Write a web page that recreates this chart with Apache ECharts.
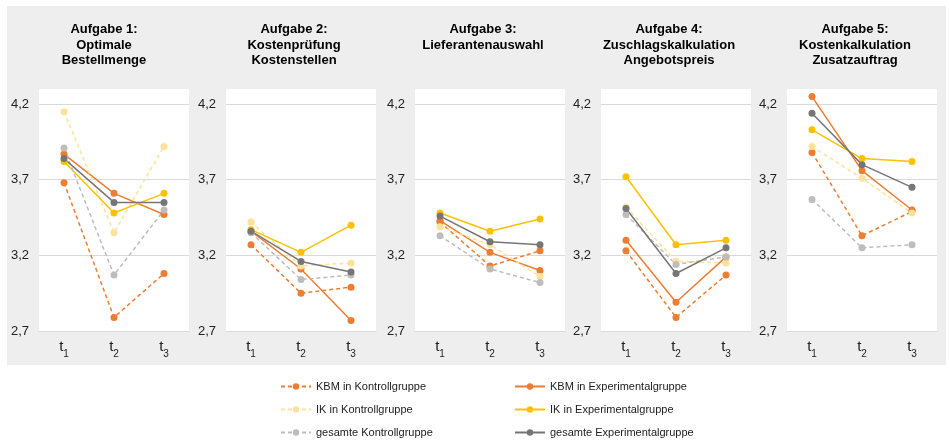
<!DOCTYPE html>
<html>
<head>
<meta charset="utf-8">
<script src="https://cdn.jsdelivr.net/npm/echarts@6/dist/echarts.min.js"></script>
<style>
  html, body { margin: 0; padding: 0; background: #fff; }
  #chart { width: 949px; height: 443px; }
</style>
</head>
<body>
<div id="chart"></div>
<script>
// Messzeitpunkte (t1, t2, t3) -> Index wird als Subskript gezeigt
const categories = ['1', '2', '3']
const taskTitles = [
  'Aufgabe 1:\nOptimale\nBestellmenge',
  'Aufgabe 2:\nKostenprüfung\nKostenstellen',
  'Aufgabe 3:\nLieferantenauswahl',
  'Aufgabe 4:\nZuschlagskalkulation\nAngebotspreis',
  'Aufgabe 5:\nKostenkalkulation\nZusatzauftrag'
]
const yMin = 2.7
const yMax = 4.3
const yInterval = 0.5

// Werte je Aufgabe: [t1, t2, t3]
const kbmKontroll = [[3.68, 2.79, 3.08], [3.27, 2.95, 2.99], [3.42, 3.13, 3.23], [3.23, 2.79, 3.07], [3.88, 3.33, 3.49]]
const kbmExperimental = [[3.87, 3.61, 3.47], [3.36, 3.11, 2.77], [3.43, 3.22, 3.10], [3.30, 2.89, 3.19], [4.25, 3.76, 3.50]]
const ikKontroll = [[4.15, 3.35, 3.92], [3.42, 3.13, 3.15], [3.39, 3.27, 3.06], [3.52, 3.16, 3.15], [3.92, 3.71, 3.48]]
const ikExperimental = [[3.82, 3.48, 3.61], [3.37, 3.22, 3.40], [3.48, 3.36, 3.44], [3.72, 3.27, 3.30], [4.03, 3.84, 3.82]]
const gesamtKontroll = [[3.91, 3.07, 3.50], [3.35, 3.04, 3.07], [3.33, 3.11, 3.02], [3.47, 3.14, 3.19], [3.57, 3.25, 3.27]]
const gesamtExperimental = [[3.84, 3.55, 3.55], [3.36, 3.16, 3.09], [3.46, 3.29, 3.27], [3.51, 3.08, 3.25], [4.14, 3.80, 3.65]]

const groups = [
  { name: 'KBM in Kontrollgruppe', data: kbmKontroll, color: '#ED7D31', dashed: true },
  { name: 'KBM in Experimentalgruppe', data: kbmExperimental, color: '#ED7D31', dashed: false },
  { name: 'IK in Kontrollgruppe', data: ikKontroll, color: '#FFE29A', dashed: true },
  { name: 'IK in Experimentalgruppe', data: ikExperimental, color: '#FFC000', dashed: false },
  { name: 'gesamte Kontrollgruppe', data: gesamtKontroll, color: '#BDBDBD', dashed: true },
  { name: 'gesamte Experimentalgruppe', data: gesamtExperimental, color: '#767676', dashed: false }
]

const gridLeft = [39, 226, 415, 601, 787]
const titleCenter = [99, 289, 478, 664, 850]
const font = 'Liberation Sans, Arial, sans-serif'

let chart = echarts.init(document.getElementById('chart'))

let grids = [], xAxes = [], yAxes = [], titles = [], series = []
for (let p = 0; p < 5; p++) {
  grids.push({
    left: gridLeft[p], top: 89, width: 150, height: 242,
    show: true, backgroundColor: '#fff', borderWidth: 0
  })
  titles.push({
    text: taskTitles[p],
    left: titleCenter[p],
    top: 17,
    textAlign: 'center',
    textStyle: { fontFamily: font, fontSize: 13, fontWeight: 'bold', color: '#000', lineHeight: 15.5 }
  })
  xAxes.push({
    type: 'category',
    gridIndex: p,
    data: categories,
    boundaryGap: true,
    axisTick: { show: false },
    axisLine: { lineStyle: { color: '#D9D9D9', width: 1 } },
    axisLabel: {
      interval: 0,
      margin: 8,
      formatter: v => '{t|t}{s|' + v + '}',
      rich: {
        t: { fontFamily: font, fontSize: 15, color: '#222', verticalAlign: 'top', lineHeight: 20 },
        s: { fontFamily: font, fontSize: 10, color: '#222', verticalAlign: 'bottom', lineHeight: 20, padding: [6, 0, 0, 0] }
      }
    }
  })
  yAxes.push({
    type: 'value',
    gridIndex: p,
    min: yMin,
    max: yMax,
    interval: yInterval,
    axisLine: { show: false },
    axisTick: { show: false },
    axisLabel: {
      margin: 10,
      showMaxLabel: false,
      fontFamily: font,
      fontSize: 13,
      color: '#222',
      formatter: v => v.toFixed(1).replace('.', ',')
    },
    splitLine: {
      showMinLine: false,
      showMaxLine: false,
      lineStyle: { color: '#D9D9D9', width: 1 }
    }
  })
  groups.forEach(g => {
    series.push({
      name: g.name,
      type: 'line',
      xAxisIndex: p,
      yAxisIndex: p,
      data: g.data[p],
      symbol: 'circle',
      symbolSize: 7,
      color: g.color,
      lineStyle: { width: 1.5, type: g.dashed ? [4, 3] : 'solid' },
      itemStyle: { color: g.color },
      animation: false
    })
  })
}

// 图例：左列 Kontrollgruppe，右列 Experimentalgruppe
let legendBase = {
  orient: 'vertical',
  top: 381,
  height: 80,
  padding: 0,
  itemWidth: 30,
  itemHeight: 8,
  itemGap: 12,
  textStyle: { fontFamily: font, fontSize: 11, color: '#222' }
}

chart.setOption({
  animation: false,
  graphic: [{
    type: 'rect',
    z: -10,
    shape: { x: 7, y: 6, width: 939, height: 359 },
    style: { fill: '#EEEEEE' }
  }],
  title: titles,
  legend: [
    Object.assign({}, legendBase, { left: 280, data: groups.filter(g => g.dashed).map(g => g.name) }),
    Object.assign({}, legendBase, { left: 514, data: groups.filter(g => !g.dashed).map(g => g.name) })
  ],
  grid: grids,
  xAxis: xAxes,
  yAxis: yAxes,
  series: series
})
</script>
</body>
</html>
